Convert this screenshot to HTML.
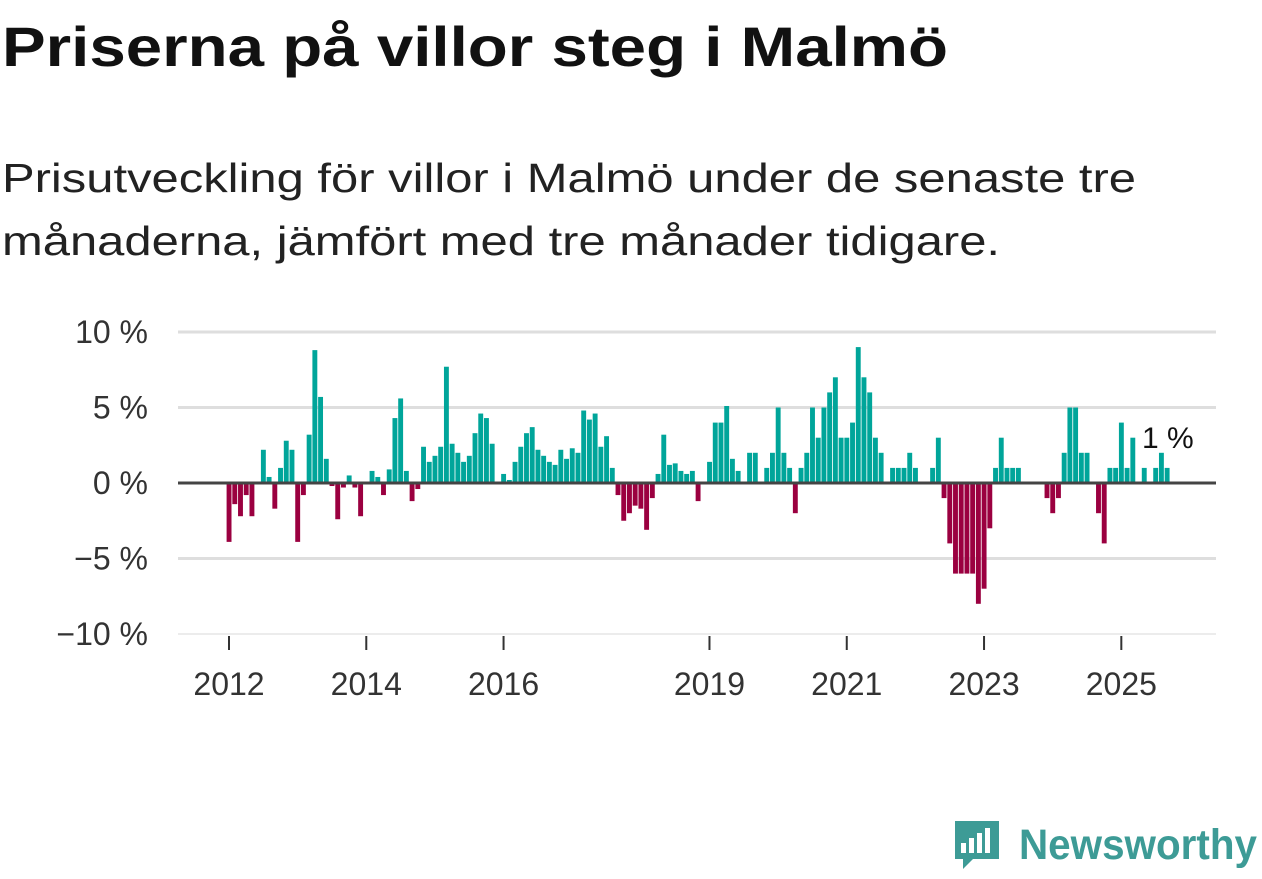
<!DOCTYPE html>
<html><head><meta charset="utf-8"><style>
html,body{margin:0;padding:0;background:#fff;}
svg{display:block;font-family:"Liberation Sans",sans-serif;}
</style></head><body>
<svg width="1262" height="879" viewBox="0 0 1262 879">
<text x="2" y="66" font-size="56" font-weight="bold" fill="#111" textLength="946" lengthAdjust="spacingAndGlyphs">Priserna på villor steg i Malmö</text>
<text x="2" y="192" font-size="41" fill="#222" textLength="1134" lengthAdjust="spacingAndGlyphs">Prisutveckling för villor i Malmö under de senaste tre</text>
<text x="2" y="255" font-size="41" fill="#222" textLength="998" lengthAdjust="spacingAndGlyphs">månaderna, jämfört med tre månader tidigare.</text>
<g id="grid"></g>
<g id="yticks"></g>
<g id="bars"></g>
<g id="xticks"></g>
<text x="1142" y="448" font-size="30" fill="#111">1 %</text>
<g>
<path d="M955 821 h44 v38 h-26 l-10 10 v-10 h-8 z" fill="#3d9b96"/>
<rect x="961" y="843" width="5" height="10" fill="#fff"/>
<rect x="969" y="838" width="5" height="15" fill="#fff"/>
<rect x="977" y="833" width="5" height="20" fill="#fff"/>
<rect x="985" y="828" width="5" height="25" fill="#fff"/>
<text x="1019" y="859" font-size="43" font-weight="bold" fill="#3d9b96" textLength="238" lengthAdjust="spacingAndGlyphs">Newsworthy</text>
</g>
</svg>
<script>
const startYear = 2012;
const startMonth = 1;
const values = [-3.9,-1.4,-2.2,-0.8,-2.2,0,2.2,0.4,-1.7,1.0,2.8,2.2,
-3.9,-0.8,3.2,8.8,5.7,1.6,-0.2,-2.4,-0.3,0.5,-0.3,-2.2,
0,0.8,0.4,-0.8,0.9,4.3,5.6,0.8,-1.2,-0.4,2.4,1.4,
1.8,2.4,7.7,2.6,2.0,1.4,1.8,3.3,4.6,4.3,2.6,0,
0.6,0.2,1.4,2.4,3.3,3.7,2.2,1.8,1.4,1.2,2.2,1.6,
2.3,2.0,4.8,4.2,4.6,2.4,3.1,1.0,-0.8,-2.5,-2.0,-1.5,
-1.7,-3.1,-1.0,0.6,3.2,1.2,1.3,0.8,0.6,0.8,-1.2,0,
1.4,4.0,4.0,5.1,1.6,0.8,0,2.0,2.0,0,1.0,2.0,
5.0,2.0,1.0,-2.0,1.0,2.0,5.0,3.0,5.0,6.0,7.0,3.0,
3.0,4.0,9.0,7.0,6.0,3.0,2.0,0,1.0,1.0,1.0,2.0,
1.0,0,0,1.0,3.0,-1.0,-4.0,-6.0,-6.0,-6.0,-6.0,-8.0,
-7.0,-3.0,1,3,1,1,1,0,0,0,0,-1,
-2,-1,2,5,5,2,2,0,-2,-4,1,1,
4,1,3,0,1,0,1,2,1];
const yTicks = [10,5,0,-5,-10];
const yTickLabels = ["10 %","5 %","0 %","−5 %","−10 %"];
const xTickYears = [2012,2014,2016,2019,2021,2023,2025];
const categories = values.map((v,i)=>{const m=startMonth-1+i;return (startYear+Math.floor(m/12))+"-"+String(m%12+1).padStart(2,"0");});

const NS="http://www.w3.org/2000/svg";
const y0=483, pxPerPct=15.1, x0=229, step=5.72;
const yScale=v=>y0-v*pxPerPct;
const xScale=i=>x0+i*step;
const yearIndex=yr=>(yr-startYear)*12-(startMonth-1);
function mk(tag,attrs,parent){const e=document.createElementNS(NS,tag);for(const k in attrs)e.setAttribute(k,attrs[k]);parent.appendChild(e);return e;}
const grid=document.getElementById('grid'), yt=document.getElementById('yticks'), bars=document.getElementById('bars'), xt=document.getElementById('xticks');
yTicks.forEach((t,k)=>{
  if(t!==0){const l=mk('line',{x1:178,x2:1216,y1:yScale(t),y2:yScale(t),stroke:t===-10?'#e6e6e6':'#dedede','stroke-width':t===-10?1.5:3},grid);
  
  }
  const tx=mk('text',{x:148,y:yScale(t)+11,'font-size':32,fill:'#333','text-anchor':'end'},yt);
  tx.textContent=yTickLabels[k];
  
  
});
values.forEach((v,i)=>{
  if(v===0)return;
  const y=yScale(Math.max(v,0)), h=Math.abs(v)*pxPerPct;
  const r=mk('rect',{x:xScale(i)-2.4,y:y,width:4.9,height:h,fill:v>0?'#00a59a':'#9b0040'},bars);
  
  
});
const zl=mk('line',{x1:178,x2:1216,y1:y0,y2:y0,stroke:'#444','stroke-width':3},bars);


xTickYears.forEach(yr=>{
  const x=xScale(yearIndex(yr));
  const tk=mk('line',{x1:x,x2:x,y1:636,y2:650,stroke:'#333','stroke-width':2},xt);
  
  
  const tx=mk('text',{x:x,y:695,'font-size':32,fill:'#333','text-anchor':'middle'},xt);
  tx.textContent=yr;
  
  
});
</script>
</body></html>
